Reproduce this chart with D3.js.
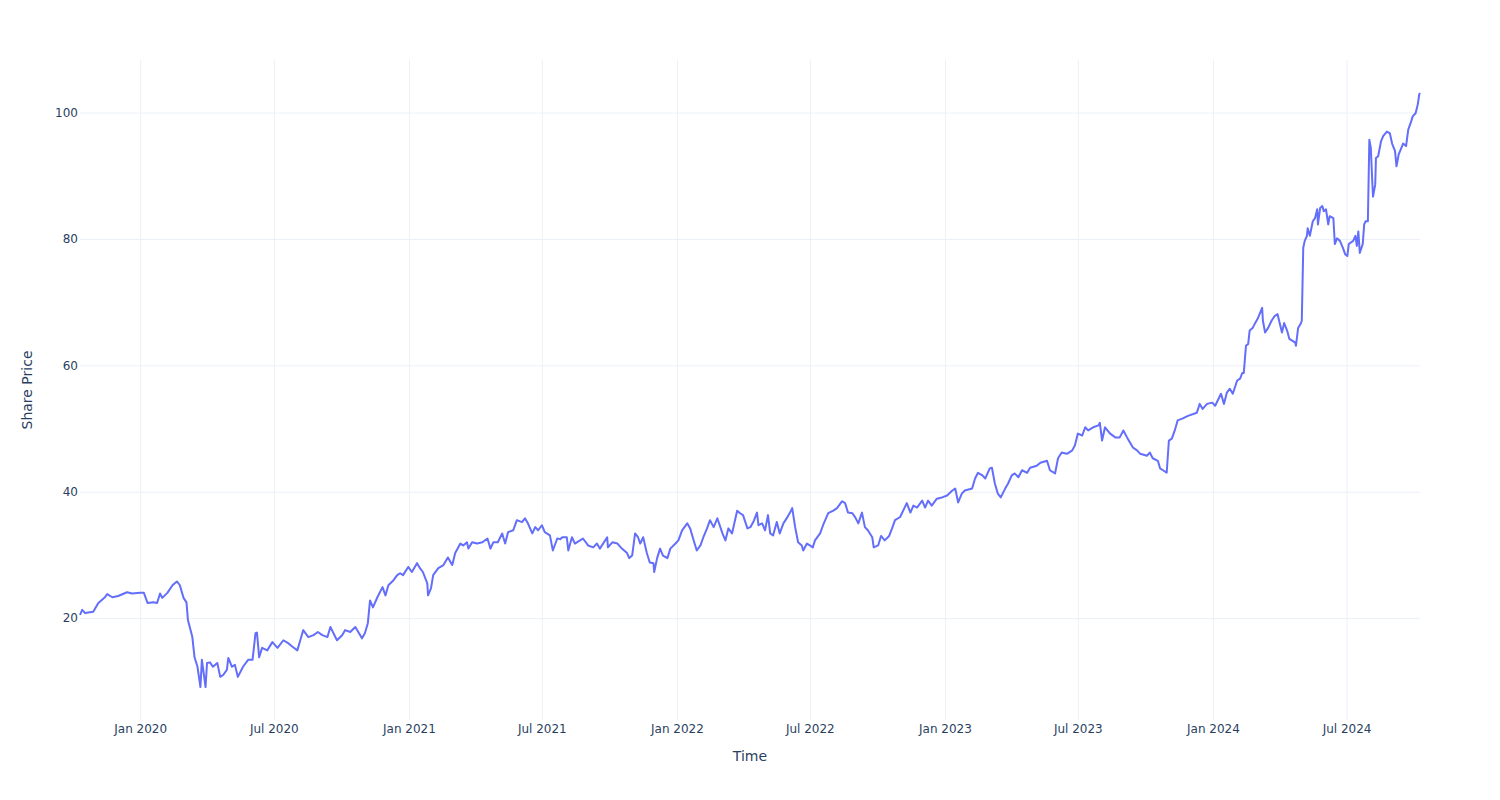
<!DOCTYPE html>
<html>
<head>
<meta charset="utf-8">
<script src="https://cdn.jsdelivr.net/npm/d3@7"></script>
<style>
  html, body { margin: 0; padding: 0; background: #fff; }
  svg text { font-family: "DejaVu Sans", verdana, arial, sans-serif; fill: #2a3f5f; }
</style>
</head>
<body>
<svg id="chart" width="1500" height="800"></svg>
<script>
const dates = [
"2019-10-11","2019-10-14","2019-10-18","2019-10-29","2019-11-05","2019-11-14","2019-11-17","2019-11-24","2019-12-02","2019-12-14","2019-12-21",
"2020-01-01","2020-01-06","2020-01-11","2020-01-19","2020-01-24","2020-01-28","2020-01-31","2020-02-07","2020-02-14","2020-02-20","2020-02-24","2020-02-29",
"2020-03-04","2020-03-06","2020-03-12","2020-03-15","2020-03-19","2020-03-23","2020-03-25","2020-03-30","2020-04-01","2020-04-05","2020-04-09","2020-04-15",
"2020-04-19","2020-04-23","2020-04-28","2020-04-30","2020-05-05","2020-05-09","2020-05-13","2020-05-20","2020-05-27","2020-06-02","2020-06-06","2020-06-08",
"2020-06-11","2020-06-15","2020-06-22","2020-06-29","2020-07-06","2020-07-14","2020-07-21","2020-07-26","2020-08-02","2020-08-06","2020-08-10","2020-08-17",
"2020-08-24","2020-08-30","2020-09-05","2020-09-12","2020-09-16","2020-09-25","2020-10-02","2020-10-06","2020-10-13","2020-10-20","2020-10-29","2020-11-02",
"2020-11-06","2020-11-09","2020-11-13","2020-11-19","2020-11-26","2020-11-30","2020-12-04","2020-12-11","2020-12-16","2020-12-20","2020-12-24","2020-12-31",
"2021-01-05","2021-01-12","2021-01-16","2021-01-20","2021-01-26","2021-01-27","2021-01-31","2021-02-03","2021-02-10","2021-02-17","2021-02-23","2021-03-01",
"2021-03-05","2021-03-12","2021-03-16","2021-03-21","2021-03-23","2021-03-28","2021-04-04","2021-04-11","2021-04-18","2021-04-22","2021-04-26","2021-05-02",
"2021-05-08","2021-05-12","2021-05-16","2021-05-23","2021-05-28","2021-06-04","2021-06-08","2021-06-12","2021-06-18","2021-06-22","2021-06-26","2021-07-01",
"2021-07-05","2021-07-12","2021-07-16","2021-07-22","2021-07-26","2021-07-29","2021-08-04","2021-08-06","2021-08-11","2021-08-15","2021-08-22","2021-08-26",
"2021-09-02","2021-09-09","2021-09-14","2021-09-18","2021-09-28","2021-09-29","2021-10-05","2021-10-12","2021-10-18","2021-10-25","2021-10-28","2021-11-01",
"2021-11-05","2021-11-09","2021-11-12","2021-11-16","2021-11-21","2021-11-25","2021-11-30","2021-12-01","2021-12-05","2021-12-09","2021-12-13","2021-12-19",
"2021-12-23","2021-12-30","2022-01-03","2022-01-08","2022-01-15","2022-01-19","2022-01-23","2022-01-28","2022-02-02","2022-02-06","2022-02-11","2022-02-15",
"2022-02-20","2022-02-25","2022-03-04","2022-03-08","2022-03-12","2022-03-17","2022-03-24","2022-03-28","2022-04-01","2022-04-07","2022-04-11","2022-04-15",
"2022-04-20","2022-04-22","2022-04-27","2022-05-01","2022-05-05","2022-05-08","2022-05-12","2022-05-17","2022-05-21","2022-05-26","2022-05-31","2022-06-04",
"2022-06-07","2022-06-11","2022-06-15","2022-06-20","2022-06-22","2022-06-27","2022-07-01","2022-07-05","2022-07-08","2022-07-15","2022-07-19","2022-07-26",
"2022-08-02","2022-08-07","2022-08-14","2022-08-18","2022-08-22","2022-08-28","2022-09-01","2022-09-05","2022-09-10","2022-09-14","2022-09-18","2022-09-24",
"2022-09-26","2022-10-02","2022-10-06","2022-10-11","2022-10-17","2022-10-21","2022-10-25","2022-11-01","2022-11-10","2022-11-15","2022-11-19","2022-11-24",
"2022-12-01","2022-12-05","2022-12-09","2022-12-14","2022-12-21","2022-12-28","2023-01-04","2023-01-11","2023-01-15","2023-01-19","2023-01-24","2023-01-28",
"2023-02-07","2023-02-11","2023-02-15","2023-02-21","2023-02-25","2023-03-03","2023-03-06","2023-03-10","2023-03-14","2023-03-18","2023-03-24","2023-03-28",
"2023-04-02","2023-04-06","2023-04-11","2023-04-16","2023-04-23","2023-04-27","2023-05-06","2023-05-11","2023-05-20","2023-05-24","2023-05-31","2023-06-04",
"2023-06-09","2023-06-16","2023-06-23","2023-06-27","2023-07-01","2023-07-07","2023-07-11","2023-07-15","2023-07-22","2023-07-29","2023-07-31","2023-08-03",
"2023-08-07","2023-08-14","2023-08-21","2023-08-27","2023-09-01","2023-09-06","2023-09-10","2023-09-14","2023-09-20","2023-09-24","2023-10-03","2023-10-07",
"2023-10-11","2023-10-18","2023-10-21","2023-10-25","2023-10-30","2023-11-02","2023-11-06","2023-11-10","2023-11-14","2023-11-21","2023-11-28","2023-12-10",
"2023-12-14","2023-12-18","2023-12-24","2023-12-31","2024-01-04","2024-01-12","2024-01-16","2024-01-20","2024-01-24","2024-01-28","2024-02-03","2024-02-07",
"2024-02-10","2024-02-12","2024-02-15","2024-02-18","2024-02-20","2024-02-24","2024-02-27","2024-03-02","2024-03-08","2024-03-09","2024-03-12","2024-03-16",
"2024-03-21","2024-03-25","2024-03-29","2024-04-04","2024-04-07","2024-04-11","2024-04-14","2024-04-18","2024-04-22","2024-04-23","2024-04-26","2024-04-30",
"2024-05-01","2024-05-03","2024-05-05","2024-05-08","2024-05-09","2024-05-12","2024-05-16","2024-05-19","2024-05-22","2024-05-23","2024-05-26","2024-05-29",
"2024-05-31","2024-06-03","2024-06-06","2024-06-08","2024-06-13","2024-06-15","2024-06-18","2024-06-22","2024-06-26","2024-06-29","2024-07-02","2024-07-04",
"2024-07-10","2024-07-13","2024-07-15","2024-07-17","2024-07-19","2024-07-23","2024-07-25","2024-07-27","2024-07-30","2024-08-01","2024-08-03","2024-08-05",
"2024-08-06","2024-08-09","2024-08-10","2024-08-13","2024-08-17","2024-08-20","2024-08-25","2024-08-29","2024-09-01","2024-09-05","2024-09-07","2024-09-10",
"2024-09-16","2024-09-20","2024-09-23","2024-09-27","2024-09-29","2024-10-03","2024-10-06","2024-10-08","2024-10-09"
];
const prices = [
20.5,21.3,20.8,21.0,22.4,23.3,23.8,23.3,23.5,24.1,23.9,
24.0,24.0,22.4,22.5,22.4,23.9,23.2,24.0,25.2,25.8,25.2,23.2,
22.5,19.7,17.0,13.8,12.3,9.1,13.4,9.1,12.9,13.0,12.3,12.9,
10.7,11.0,11.8,13.7,12.3,12.6,10.7,12.3,13.4,13.4,17.6,17.7,
13.8,15.3,14.9,16.2,15.3,16.5,16.0,15.5,14.9,16.5,18.1,17.0,
17.3,17.8,17.3,17.0,18.6,16.5,17.3,18.1,17.8,18.6,16.8,17.6,
19.2,22.8,21.7,23.3,24.9,23.6,25.2,26.0,26.8,27.1,26.8,28.1,
27.3,28.7,27.9,27.3,25.5,23.6,24.7,26.8,27.9,28.4,29.6,28.4,
30.3,31.8,31.5,32.0,31.0,32.0,31.8,32.0,32.6,31.0,32.0,32.0,
33.4,31.8,33.6,33.9,35.5,35.2,35.8,35.0,33.4,34.4,33.9,34.7,
33.6,33.1,30.7,32.6,32.5,32.8,32.8,30.7,32.8,31.8,32.3,32.6,
31.5,31.2,31.8,31.0,32.8,31.2,32.0,31.8,31.0,30.3,29.5,29.9,
33.4,32.8,31.8,32.8,30.3,28.8,28.7,27.3,29.5,31.0,29.9,29.5,
31.0,31.8,32.3,33.9,35.0,34.2,32.6,30.7,31.5,32.8,34.2,35.5,
34.4,35.8,33.4,32.3,34.2,33.4,37.0,36.6,36.3,34.2,34.4,35.2,
36.7,34.7,35.0,33.9,36.3,33.4,33.1,35.2,33.4,35.0,35.9,36.7,
37.4,34.4,32.0,31.5,30.7,31.8,31.5,31.2,32.3,33.4,34.7,36.6,
37.0,37.4,38.5,38.2,36.7,36.6,35.9,35.0,36.7,34.4,33.9,32.8,
31.2,31.5,33.0,32.3,33.0,34.2,35.5,36.0,38.2,36.7,37.8,37.5,
38.6,37.5,38.6,37.8,38.9,39.1,39.4,40.2,40.5,38.3,39.7,40.2,
40.5,42.1,43.0,42.6,42.1,43.7,43.8,41.3,39.7,39.1,40.5,41.3,
42.6,42.9,42.3,43.4,43.0,43.8,44.1,44.6,44.9,43.4,42.9,45.3,
46.2,46.0,46.5,47.3,49.2,48.9,50.2,49.7,50.2,50.5,50.9,48.1,
50.2,49.2,48.6,48.6,49.7,48.6,47.8,47.0,46.5,46.0,45.7,46.2,
45.3,44.9,43.7,43.4,43.0,48.1,48.4,49.7,51.3,51.6,52.0,52.5,
53.9,53.1,53.9,54.1,53.6,55.5,53.9,55.7,56.3,55.5,57.6,57.9,
58.8,58.8,63.1,63.4,65.5,65.9,66.6,67.4,69.1,67.1,65.2,65.9,
67.1,67.8,68.1,65.2,66.7,65.5,64.2,63.9,63.6,63.1,65.9,66.7,
67.1,78.6,79.7,80.5,81.7,80.5,82.8,83.3,84.7,82.3,84.9,85.2,
84.4,84.7,82.3,83.6,83.3,79.2,80.1,79.7,78.6,77.6,77.3,79.2,
79.7,80.5,78.9,81.2,77.8,79.2,82.3,82.8,82.8,95.7,94.4,89.1,
86.7,88.6,92.8,93.1,95.5,96.3,97.0,96.7,95.1,93.9,91.5,93.4,
95.1,94.7,97.3,98.6,99.4,99.9,101.3,102.9,103.1
];
const yTickValues = [20, 40, 60, 80, 100];
const xTitle = "Time";
const yTitle = "Share Price";

const parse = d3.timeParse("%Y-%m-%d");
const data = dates.map((d, i) => ({ date: parse(d), value: prices[i] }));

const W = 1500, H = 800;
const m = { l: 80, r: 80, t: 60, b: 80 };
const svg = d3.select("#chart");

const x = d3.scaleTime()
  .domain(d3.extent(data, d => d.date))
  .range([m.l, W - m.r]);

const [lo, hi] = d3.extent(data, d => d.value);
const pad = (hi - lo) / 18;
const y = d3.scaleLinear()
  .domain([lo - pad, hi + pad])
  .range([H - m.b, m.t]);

const grid = "#EBF0F8";

// x grid + labels
const xTicks = d3.timeMonth.every(6).range(d3.timeMonth.ceil(x.domain()[0]), x.domain()[1]);
const xAxis = d3.axisBottom(x)
  .tickValues(xTicks)
  .tickFormat(d3.timeFormat("%b %Y"))
  .tickSize(-(H - m.t - m.b))
  .tickPadding(4);
const gx = svg.append("g").attr("transform", `translate(0,${H - m.b})`).call(xAxis);
gx.select(".domain").remove();
gx.selectAll(".tick line").attr("stroke", grid).attr("stroke-width", 1);
gx.selectAll(".tick text").attr("font-size", 12).attr("fill", "#2a3f5f")
  .attr("font-family", "'DejaVu Sans', verdana, arial, sans-serif");

// y grid + labels
const yAxis = d3.axisLeft(y)
  .tickValues(yTickValues)
  .tickSize(-(W - m.l - m.r))
  .tickPadding(2);
const gy = svg.append("g").attr("transform", `translate(${m.l},0)`).call(yAxis);
gy.select(".domain").remove();
gy.selectAll(".tick line").attr("stroke", grid).attr("stroke-width", 1);
gy.selectAll(".tick text").attr("font-size", 12).attr("fill", "#2a3f5f")
  .attr("font-family", "'DejaVu Sans', verdana, arial, sans-serif");

// line
const line = d3.line().x(d => x(d.date)).y(d => y(d.value));
svg.append("path")
  .datum(data)
  .attr("fill", "none")
  .attr("stroke", "#636efa")
  .attr("stroke-width", 2)
  .attr("stroke-linejoin", "round")
  .attr("d", line);

// titles
svg.append("text")
  .attr("x", (m.l + W - m.r) / 2)
  .attr("y", 761)
  .attr("text-anchor", "middle")
  .attr("font-size", 14)
  .text(xTitle);

svg.append("text")
  .attr("transform", `translate(32,${(m.t + H - m.b) / 2}) rotate(-90)`)
  .attr("text-anchor", "middle")
  .attr("font-size", 14)
  .text(yTitle);
</script>
</body>
</html>
